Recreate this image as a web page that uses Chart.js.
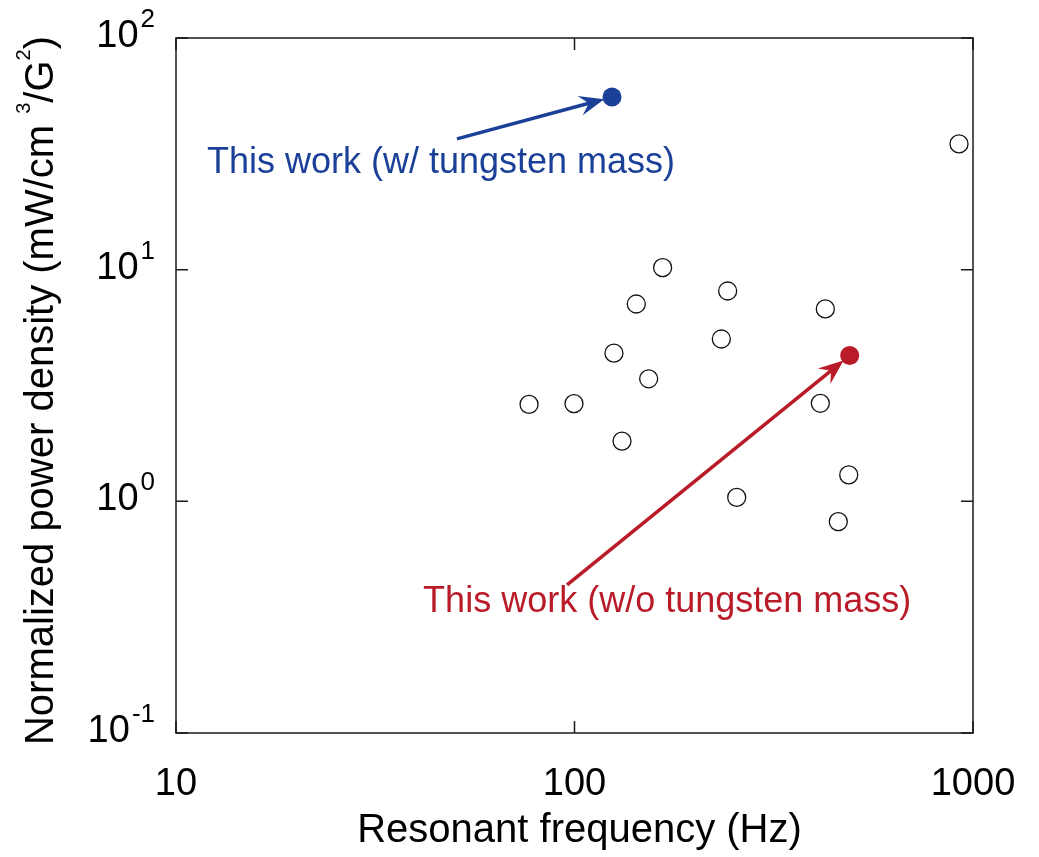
<!DOCTYPE html>
<html>
<head>
<meta charset="utf-8">
<title>Normalized power density vs resonant frequency</title>
<script src="https://cdn.jsdelivr.net/npm/chart.js@4.4.1/dist/chart.umd.min.js"></script>
<style>
    html, body { margin: 0; padding: 0; background: #fff; }
    #wrap { width: 1039px; height: 857px; position: relative; }
</style>
</head>
<body>
<div id="wrap"><canvas id="chart"></canvas></div>
<script>
// Reported harvesters (Hz, mW/cm3/G2)
const refFreq    = [76.9, 99.7, 125.6, 142.9, 131.6, 153.5, 166.4, 233.6, 242.3, 255.3, 426, 413.9, 487.7, 459.2, 922.4];
const refDensity = [2.62, 2.64, 4.36, 7.11, 1.82, 3.38, 10.2, 5.02, 8.09, 1.04, 6.77, 2.65, 1.30, 0.817, 34.9];

// This work
const withMassFreq = [124.2];
const withMassDensity = [55.6];
const withoutMassFreq = [490.5];
const withoutMassDensity = [4.26];

// Axis ticks
const xTickValues = [10, 100, 1000];
const xTickLabels = ['10', '100', '1000'];
const yTickExps = [-1, 0, 1, 2];

const FONT = '"Liberation Sans", Arial, Helvetica, sans-serif';
const BLUE = 'rgb(27, 64, 152)';
const RED = 'rgb(185, 28, 40)';

// Annotation arrows / labels, anchored in data space
const notes = [
    { text: 'This work (w/ tungsten mass)', color: BLUE, textAt: [11.96, 26.15], from: [50.7, 36.7], to: 0 },
    { text: 'This work (w/o tungsten mass)', color: RED, textAt: [41.7, 0.333], from: [95.8, 0.436], to: 1 }
];

const toPoints = (xs, ys) => xs.map((x, i) => ({ x: x, y: ys[i] }));

const frameAndLabels = {
    id: 'frameAndLabels',
    beforeDatasetsDraw(chart) {
        const ctx = chart.ctx;
        const xs = chart.scales.x, ys = chart.scales.y;
        const targets = [chart.data.datasets[1].data[0], chart.data.datasets[2].data[0]];
        notes.forEach(n => {
            const x0 = xs.getPixelForValue(n.from[0]), y0 = ys.getPixelForValue(n.from[1]);
            const t = targets[n.to];
            const cx = xs.getPixelForValue(t.x), cy = ys.getPixelForValue(t.y);
            const dx = cx - x0, dy = cy - y0, len = Math.hypot(dx, dy);
            const ux = dx / len, uy = dy / len;
            const tx = cx - ux * 8, ty = cy - uy * 8;
            const nx = -uy, ny = ux;
            ctx.save();
            ctx.strokeStyle = n.color;
            ctx.fillStyle = n.color;
            ctx.lineWidth = 3.5;
            ctx.beginPath();
            ctx.moveTo(x0, y0);
            ctx.lineTo(tx - ux * 14, ty - uy * 14);
            ctx.stroke();
            ctx.beginPath();
            ctx.moveTo(tx, ty);
            ctx.lineTo(tx - ux * 25 + nx * 10, ty - uy * 25 + ny * 10);
            ctx.lineTo(tx - ux * 16, ty - uy * 16);
            ctx.lineTo(tx - ux * 25 - nx * 10, ty - uy * 25 - ny * 10);
            ctx.closePath();
            ctx.fill();
            ctx.restore();
        });
    },
    afterDraw(chart) {
        const ctx = chart.ctx;
        const a = chart.chartArea;
        const xs = chart.scales.x, ys = chart.scales.y;
        ctx.save();

        // frame
        ctx.strokeStyle = '#1a1a1a';
        ctx.lineWidth = 1.5;
        ctx.strokeRect(a.left, a.top, a.right - a.left, a.bottom - a.top);

        // inward ticks on all four sides
        const tl = 12;
        ctx.beginPath();
        xTickValues.forEach(v => {
            const px = xs.getPixelForValue(v);
            ctx.moveTo(px, a.bottom); ctx.lineTo(px, a.bottom - tl);
            ctx.moveTo(px, a.top); ctx.lineTo(px, a.top + tl);
        });
        yTickExps.forEach(e => {
            const py = ys.getPixelForValue(Math.pow(10, e));
            ctx.moveTo(a.left, py); ctx.lineTo(a.left + tl, py);
            ctx.moveTo(a.right, py); ctx.lineTo(a.right - tl, py);
        });
        ctx.stroke();

        ctx.fillStyle = '#000';
        ctx.textBaseline = 'alphabetic';

        // x tick labels
        ctx.font = '38px ' + FONT;
        ctx.textAlign = 'center';
        xTickValues.forEach((v, i) => {
            ctx.fillText(xTickLabels[i], xs.getPixelForValue(v), a.bottom + 62);
        });

        // y tick labels: 10 with superscript exponent
        const rightEdge = a.left - 21;
        yTickExps.forEach(e => {
            const py = ys.getPixelForValue(Math.pow(10, e));
            ctx.textAlign = 'right';
            ctx.font = '26px ' + FONT;
            const sup = String(e);
            const sw = ctx.measureText(sup).width;
            ctx.fillText(sup, rightEdge, py - 11);
            ctx.font = '38px ' + FONT;
            ctx.fillText('10', rightEdge - sw - 2, py + 9);
        });

        // x axis title
        ctx.font = '40px ' + FONT;
        ctx.textAlign = 'center';
        ctx.fillText('Resonant frequency (Hz)', (a.left + a.right) / 2 + 5, a.bottom + 109);

        // y axis title with superscripts, rotated
        const parts = [
            { t: 'Normalized power density (mW/cm', sup: false },
            { t: ' ', sup: false },
            { t: '3', sup: true },
            { t: '/G', sup: false },
            { t: '2', sup: true },
            { t: ')', sup: false }
        ];
        const mainFont = '40px ' + FONT, supFont = '20px ' + FONT;
        let total = 0;
        parts.forEach(p => {
            ctx.font = p.sup ? supFont : mainFont;
            p.w = ctx.measureText(p.t).width;
            total += p.w;
        });
        ctx.translate(53, (a.top + a.bottom) / 2 + 5);
        ctx.rotate(-Math.PI / 2);
        ctx.textAlign = 'left';
        let cx = -total / 2;
        parts.forEach(p => {
            ctx.font = p.sup ? supFont : mainFont;
            ctx.fillText(p.t, cx, p.sup ? -23 : 0);
            cx += p.w;
        });
        ctx.setTransform(1, 0, 0, 1, 0, 0);

        // annotation labels
        ctx.font = '36px ' + FONT;
        ctx.textAlign = 'left';
        notes.forEach(n => {
            ctx.fillStyle = n.color;
            ctx.fillText(n.text, xs.getPixelForValue(n.textAt[0]), ys.getPixelForValue(n.textAt[1]));
        });
        ctx.restore();
    }
};

new Chart(document.getElementById('chart'), {
    type: 'scatter',
    data: {
        datasets: [
            {
                label: 'Reported',
                data: toPoints(refFreq, refDensity),
                pointStyle: 'circle',
                pointRadius: 9,
                pointHoverRadius: 9,
                backgroundColor: 'rgba(255,255,255,0)',
                borderColor: '#111',
                borderWidth: 1.3
            },
            {
                label: 'This work (w/ tungsten mass)',
                data: toPoints(withMassFreq, withMassDensity),
                pointRadius: 9.5,
                backgroundColor: BLUE,
                borderColor: BLUE,
                borderWidth: 0
            },
            {
                label: 'This work (w/o tungsten mass)',
                data: toPoints(withoutMassFreq, withoutMassDensity),
                pointRadius: 9.5,
                backgroundColor: RED,
                borderColor: RED,
                borderWidth: 0
            }
        ]
    },
    options: {
        responsive: true,
        maintainAspectRatio: false,
        animation: false,
        layout: { padding: { left: 176, top: 38, right: 66, bottom: 124 } },
        plugins: {
            legend: { display: false },
            tooltip: { enabled: false }
        },
        scales: {
            x: { type: 'logarithmic', min: 10, max: 1000, display: false },
            y: { type: 'logarithmic', min: 0.1, max: 100, display: false }
        }
    },
    plugins: [frameAndLabels]
});
</script>
</body>
</html>
